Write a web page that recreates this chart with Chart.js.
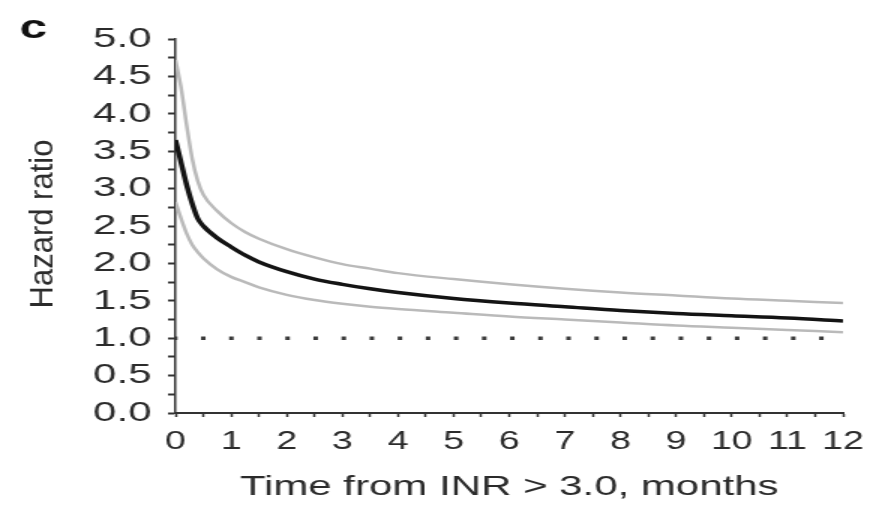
<!DOCTYPE html>
<html>
<head>
<meta charset="utf-8">
<script src="https://cdn.jsdelivr.net/npm/chart.js@4/dist/chart.umd.min.js"></script>
<style>
  html, body { margin: 0; padding: 0; background: #fff; overflow: hidden; }
  /* the source figure is stretched sideways, so the chart is drawn narrow and widened */
  #wrap { width: 596px; height: 512px; transform: scaleX(1.5); transform-origin: 0 0; }
</style>
</head>
<body>
<div id="wrap"><canvas id="hrChart"></canvas></div>
<script>
// months since INR > 3.0
var months = [0, 0.1, 0.2, 0.3, 0.4, 0.5, 0.75, 1, 1.25, 1.5, 2, 2.5, 3, 3.5, 4, 5, 6, 7, 8, 9, 10, 11, 12]
var hazard = [3.65, 3.35, 3.05, 2.8, 2.6, 2.5, 2.34, 2.22, 2.11, 2.02, 1.89, 1.79, 1.72, 1.66, 1.61, 1.53, 1.47, 1.42, 1.37, 1.33, 1.30, 1.27, 1.23]
var upperCI = [4.72, 4.35, 3.85, 3.4, 3.1, 2.92, 2.7, 2.54, 2.42, 2.33, 2.19, 2.08, 1.99, 1.93, 1.87, 1.79, 1.72, 1.66, 1.61, 1.57, 1.53, 1.50, 1.47]
var lowerCI = [2.82, 2.6, 2.4, 2.25, 2.15, 2.07, 1.92, 1.82, 1.75, 1.68, 1.58, 1.51, 1.46, 1.42, 1.39, 1.34, 1.29, 1.25, 1.21, 1.17, 1.14, 1.11, 1.08]
var refX = [0, 12]
var refY = [1, 1]

var fontFamily = '"Liberation Sans", Arial, Helvetica, sans-serif'
var textColour = '#2b2b2b'
var axisColour = '#333333'

function toPoints(xs, ys) {
  var pts = []
  for (var i = 0; i < xs.length; i++) {
    pts.push({ x: xs[i], y: ys[i] })
  }
  return pts
}

// panel letter and the squeezed y title
var extraText = {
  id: 'extraText',
  afterDraw: function(chart) {
    var ctx = chart.ctx
    ctx.save()
    ctx.fillStyle = '#111'
    ctx.font = 'bold 33px ' + fontFamily
    ctx.textAlign = 'left'
    ctx.textBaseline = 'alphabetic'
    ctx.fillText('c', 13, 38)
    ctx.restore()

    ctx.save()
    ctx.fillStyle = textColour
    ctx.translate(35, 224)
    ctx.rotate(-Math.PI / 2)
    ctx.scale(1, 0.7)
    ctx.font = '31px ' + fontFamily
    ctx.textAlign = 'center'
    ctx.textBaseline = 'alphabetic'
    ctx.fillText('Hazard ratio', 0, 0)
    ctx.restore()
  }
}

var ctx = document.getElementById('hrChart').getContext('2d')

var hrChart = new Chart(ctx, {
  type: 'line',
  data: {
    datasets: [
      {
        label: 'reference',
        data: toPoints(refX, refY),
        borderColor: '#3a3a3a',
        borderWidth: 3.5,
        borderDash: [3, 15.73],
        borderDashOffset: 1.7,
        borderCapStyle: 'butt',
        pointRadius: 0,
        fill: false
      },
      {
        label: 'upper',
        data: toPoints(months, upperCI),
        borderColor: '#bababa',
        borderWidth: 2.5,
        pointRadius: 0,
        cubicInterpolationMode: 'monotone',
        fill: false
      },
      {
        label: 'lower',
        data: toPoints(months, lowerCI),
        borderColor: '#bababa',
        borderWidth: 2.5,
        pointRadius: 0,
        cubicInterpolationMode: 'monotone',
        fill: false
      },
      {
        label: 'hazard ratio',
        data: toPoints(months, hazard),
        borderColor: '#141414',
        borderWidth: 3.5,
        pointRadius: 0,
        cubicInterpolationMode: 'monotone',
        fill: false
      }
    ]
  },
  options: {
    responsive: true,
    maintainAspectRatio: false,
    animation: false,
    layout: {
      padding: { left: 0, right: 34, top: 39, bottom: 0 }
    },
    plugins: {
      legend: { display: false },
      tooltip: { enabled: false }
    },
    scales: {
      x: {
        type: 'linear',
        min: 0,
        max: 12,
        afterFit: function(scale) { scale.height = 99 },
        border: { display: true, color: axisColour, width: 2 },
        grid: {
          drawOnChartArea: false,
          drawTicks: true,
          tickLength: 4,
          tickWidth: 1.5,
          tickColor: axisColour
        },
        ticks: {
          stepSize: 0.5,
          autoSkip: false,
          maxRotation: 0,
          padding: 10,
          color: textColour,
          font: { family: fontFamily, size: 25 },
          callback: function(value) {
            return Number.isInteger(value) ? String(value) : ''
          }
        },
        title: {
          display: true,
          text: 'Time from INR > 3.0, months',
          color: textColour,
          font: { family: fontFamily, size: 28 },
          padding: { top: 0, bottom: 8 }
        }
      },
      y: {
        min: 0,
        max: 5,
        afterFit: function(scale) { scale.width = 117 },
        border: { display: true, color: axisColour, width: 1.5 },
        grid: {
          drawOnChartArea: false,
          drawTicks: true,
          tickLength: 5,
          tickWidth: 2,
          tickColor: axisColour
        },
        ticks: {
          stepSize: 0.25,
          autoSkip: false,
          padding: 11,
          color: textColour,
          font: { family: fontFamily, size: 28 },
          callback: function(value) {
            return (Math.round(value * 100) % 50 === 0) ? value.toFixed(1) : ''
          }
        }
      }
    }
  },
  plugins: [extraText]
})
</script>
</body>
</html>
